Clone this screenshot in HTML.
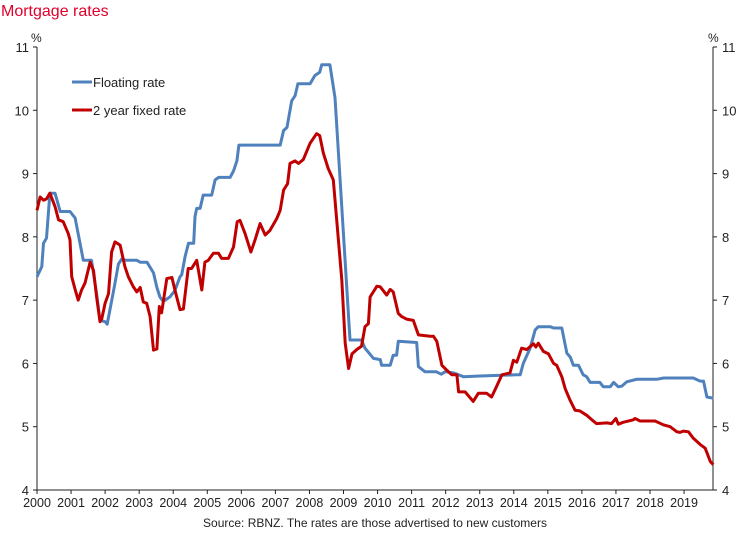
<!DOCTYPE html>
<html><head><meta charset="utf-8"><style>
body{margin:0;background:#fff;width:756px;height:537px;overflow:hidden;font-family:"Liberation Sans",Arial,sans-serif}
svg text{font-family:"Liberation Sans",Arial,sans-serif}
</style></head><body>
<svg id="chart" width="756" height="537" viewBox="0 0 756 537" xmlns="http://www.w3.org/2000/svg">
<text x="1" y="16" font-size="16" fill="#e0002a">Mortgage rates</text>
<g id="axes"></g>
<g id="series"></g>
<g>
<line x1="72" y1="82" x2="92" y2="82" stroke="#4f81bd" stroke-width="3"/>
<text x="93" y="87" font-size="13" fill="#222">Floating rate</text>
<line x1="72" y1="110" x2="92" y2="110" stroke="#c00000" stroke-width="3"/>
<text x="93" y="115" font-size="13" fill="#222">2 year fixed rate</text>
</g>
<text x="375" y="527" font-size="12" fill="#222" text-anchor="middle">Source: RBNZ. The rates are those advertised to new customers</text>
</svg>
<script>
const yearTicks=[2000,2001,2002,2003,2004,2005,2006,2007,2008,2009,2010,2011,2012,2013,2014,2015,2016,2017,2018,2019];
const valueTicks=[4,5,6,7,8,9,10,11];
const floatDates=[2000.0,2000.14,2000.19,2000.28,2000.38,2000.53,2000.68,2000.97,2001.12,2001.36,2001.6,2001.75,2001.85,2002.0,2002.06,2002.29,2002.39,2002.49,2002.59,2002.93,2003.03,2003.23,2003.42,2003.52,2003.61,2003.71,2003.9,2004.05,2004.2,2004.25,2004.35,2004.45,2004.6,2004.64,2004.69,2004.79,2004.88,2005.13,2005.23,2005.33,2005.67,2005.77,2005.87,2005.93,2006.75,2007.14,2007.24,2007.34,2007.48,2007.58,2007.66,2008.02,2008.16,2008.3,2008.36,2008.6,2008.75,2008.9,2009.19,2009.53,2009.63,2009.88,2010.08,2010.12,2010.37,2010.46,2010.56,2010.61,2011.15,2011.2,2011.39,2011.72,2011.87,2011.99,2012.23,2012.52,2012.91,2014.09,2014.19,2014.28,2014.48,2014.63,2014.72,2015.07,2015.17,2015.41,2015.56,2015.66,2015.75,2015.9,2016.04,2016.14,2016.24,2016.53,2016.63,2016.83,2016.93,2017.07,2017.17,2017.32,2017.61,2018.2,2018.4,2019.27,2019.47,2019.57,2019.67,2019.86];
const floatValues=[7.37,7.53,7.9,7.98,8.69,8.69,8.4,8.4,8.3,7.63,7.63,7.1,6.68,6.66,6.62,7.27,7.57,7.65,7.63,7.63,7.6,7.6,7.43,7.2,7.05,6.98,7.05,7.15,7.37,7.4,7.69,7.9,7.9,8.32,8.45,8.45,8.66,8.66,8.9,8.94,8.94,9.04,9.2,9.45,9.45,9.45,9.68,9.73,10.15,10.23,10.42,10.42,10.55,10.6,10.72,10.72,10.2,8.9,6.37,6.37,6.24,6.08,6.06,5.97,5.97,6.13,6.13,6.35,6.33,5.95,5.87,5.87,5.83,5.87,5.85,5.79,5.8,5.82,5.82,6.0,6.24,6.53,6.58,6.58,6.56,6.56,6.16,6.1,5.97,5.97,5.82,5.79,5.7,5.7,5.63,5.63,5.7,5.63,5.64,5.71,5.75,5.75,5.77,5.77,5.72,5.72,5.47,5.45];
const fixedDates=[2000.0,2000.09,2000.19,2000.28,2000.38,2000.53,2000.63,2000.77,2000.92,2000.97,2001.02,2001.12,2001.21,2001.31,2001.41,2001.56,2001.66,2001.75,2001.85,2001.9,2002.0,2002.1,2002.19,2002.29,2002.44,2002.58,2002.68,2002.83,2002.93,2003.03,2003.12,2003.22,2003.32,2003.42,2003.52,2003.59,2003.66,2003.81,2003.96,2004.05,2004.2,2004.3,2004.44,2004.54,2004.69,2004.84,2004.93,2005.03,2005.18,2005.33,2005.42,2005.62,2005.77,2005.88,2005.96,2006.11,2006.28,2006.4,2006.55,2006.7,2006.84,2007.04,2007.14,2007.24,2007.36,2007.43,2007.58,2007.68,2007.82,2008.02,2008.21,2008.3,2008.41,2008.55,2008.7,2008.95,2009.05,2009.15,2009.25,2009.39,2009.53,2009.63,2009.73,2009.78,2009.98,2010.08,2010.27,2010.37,2010.46,2010.61,2010.71,2010.85,2011.05,2011.2,2011.54,2011.64,2011.74,2011.89,2012.04,2012.18,2012.33,2012.38,2012.57,2012.81,2012.96,2013.2,2013.35,2013.5,2013.65,2013.89,2013.99,2014.09,2014.23,2014.38,2014.58,2014.65,2014.72,2014.87,2015.02,2015.17,2015.26,2015.41,2015.51,2015.65,2015.8,2015.94,2016.14,2016.29,2016.43,2016.73,2016.87,2017.0,2017.07,2017.21,2017.51,2017.56,2017.71,2018.15,2018.39,2018.59,2018.79,2018.88,2018.98,2019.13,2019.27,2019.47,2019.62,2019.77,2019.86];
const fixedValues=[8.42,8.63,8.58,8.6,8.69,8.48,8.27,8.24,8.05,7.95,7.37,7.17,7.0,7.16,7.27,7.6,7.47,7.05,6.66,6.7,6.95,7.1,7.76,7.92,7.87,7.53,7.37,7.21,7.13,7.2,6.97,6.95,6.74,6.21,6.23,6.9,6.8,7.34,7.36,7.16,6.85,6.86,7.5,7.5,7.63,7.16,7.6,7.63,7.74,7.74,7.66,7.66,7.84,8.24,8.26,8.05,7.76,7.95,8.21,8.03,8.1,8.29,8.42,8.74,8.84,9.16,9.2,9.16,9.22,9.48,9.63,9.6,9.32,9.08,8.9,7.32,6.32,5.92,6.15,6.22,6.27,6.58,6.63,7.05,7.22,7.21,7.08,7.17,7.13,6.79,6.74,6.7,6.68,6.45,6.43,6.43,6.35,5.97,5.89,5.82,5.82,5.55,5.55,5.4,5.53,5.53,5.47,5.64,5.82,5.85,6.05,6.02,6.24,6.22,6.31,6.26,6.32,6.19,6.15,6.0,5.97,5.79,5.6,5.42,5.26,5.25,5.18,5.11,5.05,5.06,5.05,5.13,5.04,5.07,5.11,5.13,5.09,5.09,5.03,5.0,4.92,4.91,4.93,4.92,4.82,4.72,4.66,4.45,4.4];

const X0=37,X1=713,Y0=490,Y1=47,xMin=2000,xMax=2019.85,yMin=4,yMax=11;
const xs=v=>X0+(v-xMin)/(xMax-xMin)*(X1-X0);
const ys=v=>Y0-(v-yMin)/(yMax-yMin)*(Y0-Y1);
const NS="http://www.w3.org/2000/svg";
function mk(tag,attrs,parent){const e=document.createElementNS(NS,tag);for(const k in attrs)e.setAttribute(k,attrs[k]);parent.appendChild(e);return e;}
const axes=document.getElementById('axes');
let l=mk('line',{x1:X0,y1:Y1,x2:X0,y2:Y0,stroke:'#222','stroke-width':1},axes);


l=mk('line',{x1:X1,y1:Y1,x2:X1,y2:Y0,stroke:'#222','stroke-width':1},axes);


l=mk('line',{x1:X0,y1:Y0,x2:X1,y2:Y0,stroke:'#222','stroke-width':1},axes);


valueTicks.forEach(v=>{
  const y=ys(v);
  let t=mk('line',{x1:X0-4,y1:y,x2:X0,y2:y,stroke:'#222'},axes);
  
  
  t=mk('line',{x1:X1,y1:y,x2:X1+4,y2:y,stroke:'#222'},axes);
  
  
  let tx=mk('text',{x:29,y:y+5,'font-size':13,'text-anchor':'end',fill:'#222'},axes);tx.textContent=v;
  
  
  tx=mk('text',{x:722,y:y+5,'font-size':13,fill:'#222'},axes);tx.textContent=v;
  
  
});
let p=mk('text',{x:31,y:42,'font-size':12,fill:'#222'},axes);p.textContent='%';


p=mk('text',{x:708,y:42,'font-size':12,fill:'#222'},axes);p.textContent='%';


yearTicks.forEach(yr=>{
  const x=xs(yr);
  let t=mk('line',{x1:x,y1:Y0,x2:x,y2:Y0+4,stroke:'#222'},axes);
  
  
  let tx=mk('text',{x:x,y:Y0+17,'font-size':12.5,'text-anchor':'middle',fill:'#222'},axes);tx.textContent=yr;
  
  
});
const series=document.getElementById('series');
function line(d,v,color,name){
  const pts=d.map((x,i)=>xs(x).toFixed(1)+','+ys(v[i]).toFixed(1)).join(' ');
  const e=mk('polyline',{points:pts,fill:'none',stroke:color,'stroke-width':3,'stroke-linejoin':'round'},series);
  
  
}
line(floatDates,floatValues,'#4f81bd','floating-rate-line');
line(fixedDates,fixedValues,'#c00000','fixed-rate-line');
</script>
</body></html>
